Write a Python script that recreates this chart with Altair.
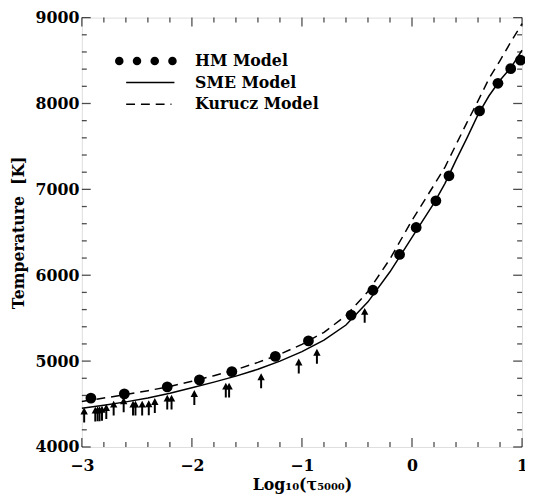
import altair as alt
import pandas as pd

# ---------------- data ----------------
hm_x = [-2.918, -2.614, -2.224, -1.932, -1.637, -1.242, -0.941, -0.553, -0.355,
        -0.113, 0.038, 0.217, 0.336, 0.614, 0.781, 0.897, 0.986]
hm_t = [4569, 4619, 4700, 4781, 4877, 5055, 5235, 5536, 5825,
        6242, 6556, 6867, 7158, 7914, 8235, 8406, 8505]

sme_x = [-3.0, -2.8, -2.6, -2.4, -2.2, -2.0, -1.8, -1.6, -1.4, -1.2, -1.0, -0.8,
         -0.6, -0.4, -0.2, 0.0, 0.2, 0.3, 0.4, 0.5, 0.6, 0.7, 0.8, 0.9, 1.0]
sme_t = [4450, 4485, 4525, 4570, 4625, 4690, 4755, 4825, 4905, 5000, 5110, 5245,
         5420, 5690, 6040, 6440, 6840, 7070, 7340, 7600, 7870, 8090, 8270, 8420, 8620]

kur_x = [-3.0, -2.8, -2.6, -2.4, -2.2, -2.0, -1.8, -1.6, -1.4, -1.2, -1.0, -0.8,
         -0.6, -0.4, -0.2, 0.0, 0.2, 0.3, 0.4, 0.5, 0.6, 0.7, 0.8, 0.9, 1.0]
kur_t = [4530, 4570, 4610, 4655, 4705, 4765, 4830, 4900, 4985, 5080, 5195, 5335,
         5530, 5810, 6190, 6640, 7050, 7260, 7520, 7780, 8030, 8290, 8500, 8720, 8930]

arrow_x = [-2.979, -2.878, -2.857, -2.839, -2.817, -2.778, -2.711, -2.620, -2.535,
           -2.513, -2.452, -2.392, -2.337, -2.224, -2.185, -1.978, -1.692, -1.662,
           -1.371, -1.029, -0.864, -0.430]
arrow_t = [4360, 4370, 4375, 4375, 4380, 4400, 4440, 4480, 4440,
           4440, 4440, 4445, 4470, 4510, 4510, 4564, 4650, 4650,
           4760, 4930, 5045, 5520]

series_names = ["HM Model", "SME Model", "Kurucz Model"]
x_major = [-3, -2, -1, 0, 1]
x_minor = [-2.8, -2.6, -2.4, -2.2, -1.8, -1.6, -1.4, -1.2, -0.8, -0.6, -0.4, -0.2,
           0.2, 0.4, 0.6, 0.8]
y_major = [4000, 5000, 6000, 7000, 8000, 9000]
y_minor = [4200, 4400, 4600, 4800, 5200, 5400, 5600, 5800, 6200, 6400, 6600, 6800,
           7200, 7400, 7600, 7800, 8200, 8400, 8600, 8800]

W, H = 447, 436
FONT = "DejaVu Serif"

hm = pd.DataFrame({"x": hm_x, "T": hm_t})
sme = pd.DataFrame({"x": sme_x, "T": sme_t})
kur = pd.DataFrame({"x": kur_x, "T": kur_t})
arr = pd.DataFrame({"x": arrow_x, "T": arrow_t})

xs = alt.Scale(domain=[-3, 1], nice=False, zero=False)
ys = alt.Scale(domain=[4000, 9000], nice=False, zero=False)

x_axis = alt.Axis(values=x_major, domain=False, ticks=False, grid=False,
                  labelFontSize=16, labelFont=FONT, labelFontWeight="bold",
                  labelColor="black", labelPadding=11, labelFlush=False,
                  title="Log₁₀(τ₅₀₀₀)", titleFont=FONT, titleFontSize=16,
                  titleFontWeight="bold", titleColor="black", titlePadding=3)
y_axis = alt.Axis(values=y_major, format="d", domain=False, ticks=False, grid=False,
                  labelFontSize=16, labelFont=FONT, labelFontWeight="bold",
                  labelColor="black", labelPadding=3, labelFlush=False,
                  title="Temperature\u00a0\u00a0[K]", titleFont=FONT, titleFontSize=16,
                  titleFontWeight="bold", titleColor="black", titlePadding=9)

X = alt.X("x:Q", scale=xs, axis=x_axis)
Y = alt.Y("T:Q", scale=ys, axis=y_axis)

sme_line = alt.Chart(sme).mark_line(color="black", strokeWidth=1.5).encode(x=X, y=Y)
kur_line = alt.Chart(kur).mark_line(color="black", strokeWidth=1.5,
                                    strokeDash=[9, 6]).encode(x=X, y=Y)
hm_pts = alt.Chart(hm).mark_point(filled=True, color="black", size=120,
                                  opacity=1, shape="circle").encode(x=X, y=Y)

arrow_shape = "M0,1 L0,-0.45 M-0.32,-0.4 L0,-1 L0.32,-0.4 Z"
arrows = alt.Chart(arr).mark_point(shape=arrow_shape, filled=True, fill="black",
                                   stroke="black", strokeWidth=2, size=170,
                                   opacity=1).encode(x=X, y=Y)

# inward ticks on all four sides
def xticks(vals, length, top):
    d = pd.DataFrame({"x": vals})
    yv = length / 2 if top else H - length / 2
    return alt.Chart(d).mark_tick(color="black", thickness=1.3, size=length,
                                  orient="vertical").encode(x=X, y=alt.value(yv))

def yticks(vals, length, right):
    d = pd.DataFrame({"T": vals})
    xv = W - length / 2 if right else length / 2
    return alt.Chart(d).mark_tick(color="black", thickness=1.3, size=length,
                                  orient="horizontal").encode(y=Y, x=alt.value(xv))

ticks = [xticks(x_major, 9, False), xticks(x_minor, 5, False),
         xticks(x_major, 9, True), xticks(x_minor, 5, True),
         yticks(y_major, 9, False), yticks(y_minor, 5, False),
         yticks(y_major, 9, True), yticks(y_minor, 5, True)]

# legend (inside the plot, top-left)
one = pd.DataFrame({"a": [0]})
legend_dots = [
    alt.Chart(one).mark_point(filled=True, color="black", size=75, opacity=1).encode(
        x=alt.value(px), y=alt.value(44))
    for px in [38, 56, 74, 92]
]
legend_solid = alt.Chart(one).mark_rule(color="black", strokeWidth=1.5).encode(
    x=alt.value(45), x2=alt.value(94), y=alt.value(66))
legend_dash = alt.Chart(one).mark_rule(color="black", strokeWidth=1.5,
                                       strokeDash=[9, 6]).encode(
    x=alt.value(45), x2=alt.value(91), y=alt.value(88))
legend_text = [
    alt.Chart(pd.DataFrame({"t": [series_names[k]]})).mark_text(
        align="left", baseline="middle", font=FONT, fontSize=16, fontWeight="bold",
        color="black").encode(text="t:N", x=alt.value(115), y=alt.value(yy))
    for k, yy in enumerate([44, 66, 88])
]

chart = alt.layer(
    sme_line, kur_line, hm_pts, arrows, *ticks,
    *legend_dots, legend_solid, legend_dash, *legend_text
).properties(
    width=W, height=H,
    autosize=alt.AutoSizeParams(type="none"),
    padding={"left": 75, "top": 6, "right": 3, "bottom": 45},
).configure_view(stroke="black", strokeWidth=1.5).configure(background="white")

chart.save("out.html", embed_options={"renderer": "svg", "actions": False})
